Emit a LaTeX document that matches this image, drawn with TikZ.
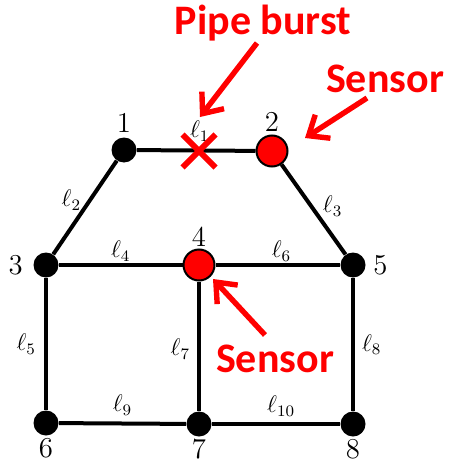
\documentclass[tikz,border=0pt]{standalone}
\usepackage{fontspec}
\newfontfamily\calloutfont{Carlito}
\usetikzlibrary{arrows.meta,positioning,shapes.misc}
\tikzset{>=Stealth,
  junc/.style={circle, fill=black, inner sep=0pt, minimum size=12.5pt},
  sens/.style={circle, fill=red, draw=black, line width=1pt, inner sep=0pt, minimum size=15.5pt},
  pipe/.style={line width=2pt},
  num/.style={font=\Large, inner sep=1pt},
  lab/.style={font=\large, inner sep=1pt},
  callout/.style={text=red, inner sep=0pt, font=\calloutfont\bfseries\fontsize{21}{25}\selectfont},
  pointer/.style={draw=red, line width=2.7pt, -{Straight Barb[length=8.5pt, width=14pt]}}}

\begin{document}
\begin{tikzpicture}[x=0.5pt, y=-0.5pt]
  \useasboundingbox (0,0) rectangle (451,465);
  % junctions of the network
  \node[junc, label={[num, label distance=1pt]above:1}] (n1) at (124,150) {};
  \node[sens, label={[num, label distance=0.5pt]above:2}] (n2) at (272,151) {};
  \node[junc, label={[num, label distance=4pt]left:3}] (n3) at (46,265) {};
  \node[sens, label={[num]above:4}] (n4) at (199,265) {};
  \node[junc, label={[num, label distance=2.5pt]right:5}] (n5) at (353,265) {};
  \node[junc, label={[num]below:6}] (n6) at (46,423) {};
  \node[junc, label={[num]below:7}] (n7) at (199,424) {};
  \node[junc, label={[num]below:8}] (n8) at (353,424) {};
  % pipes
  \draw[pipe] (n1) -- node[lab, above=2.5pt, pos=0.53] {$\ell_1$} (n2);
  \draw[pipe] (n1) -- node[lab, left=2.5pt, pos=0.42] {$\ell_2$} (n3);
  \draw[pipe] (n2) -- node[lab, right=4pt, pos=0.46] {$\ell_3$} (n5);
  \draw[pipe] (n3) -- node[lab, above=0pt, pos=0.5] {$\ell_4$} (n4);
  \draw[pipe] (n3) -- node[lab, left=3pt, pos=0.5] {$\ell_5$} (n6);
  \draw[pipe] (n4) -- node[lab, above=0pt, pos=0.53] {$\ell_6$} (n5);
  \draw[pipe] (n4) -- node[lab, left=2.5pt, pos=0.52] {$\ell_7$} (n7);
  \draw[pipe] (n5) -- node[lab, right=2.5pt, pos=0.5] {$\ell_8$} (n8);
  \draw[pipe] (n6) -- node[lab, above=2pt, pos=0.5] {$\ell_9$} (n7);
  \draw[pipe] (n7) -- node[lab, above=2pt, pos=0.54] {$\ell_{10}$} (n8);
  % burst and callouts
  \node[cross out, draw=red, line width=3pt, inner sep=0pt, minimum size=13.5pt] (burst) at (199,151) {};
  \node[callout, anchor=base] (pb) at (263,35) {Pipe burst};
  \node[callout, anchor=base] (s1) at (385,93) {Sensor};
  \node[callout, anchor=base] (s2) at (275,372) {Sensor};
  \coordinate (pbtail) at (257,43);
  \coordinate (pbtip) at (200,117);
  \coordinate (s1tail) at (367,98);
  \coordinate (s1tip) at (305,138);
  \coordinate (s2tail) at (265,335);
  \coordinate (s2tip) at (213,279);
  \draw[pointer] (pbtail) -- (pbtip);
  \draw[pointer] (s1tail) -- (s1tip);
  \draw[pointer] (s2tail) -- (s2tip);
\end{tikzpicture}
\end{document}
